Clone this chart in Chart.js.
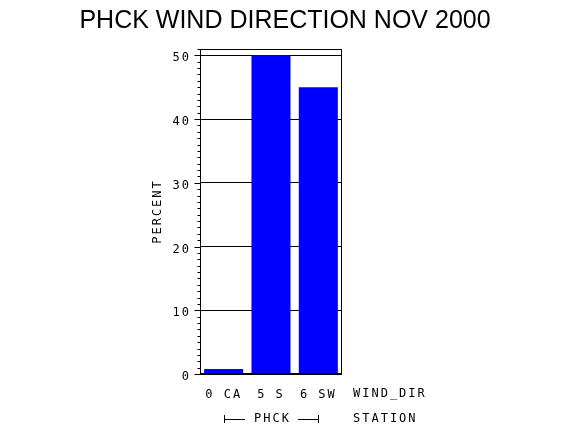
<!DOCTYPE html>
<html>
<head>
<meta charset="utf-8">
<script src="https://cdn.jsdelivr.net/npm/chart.js@4"></script>
<style>
  html, body { margin: 0; padding: 0; background: #fff; }
</style>
</head>
<body>
<canvas id="chart" width="570" height="430"></canvas>
<script>
// data
const categories = ["0 CA", "5 S", "6 SW"];
const percent = [0.8, 50, 45];
const yTicks = [0, 10, 20, 30, 40, 50];
const yMax = 51;
const station = "PHCK";

const monoFont = { family: "DejaVu Sans Mono", size: 12 };

// draws frame, minor ticks and the extra texts round the plot
const extras = {
  id: "extras",
  beforeDraw(chart) {
    chart.ctx.letterSpacing = "2px";
  },
  afterDraw(chart) {
    const { ctx, chartArea: a, scales } = chart;
    const x = scales.x, y = scales.y;
    ctx.save();
    ctx.strokeStyle = "#000";
    ctx.fillStyle = "#000";
    ctx.lineWidth = 1;

    // frame
    const l = Math.round(a.left) + 0.5, r = Math.round(a.right) - 0.5;
    const t = Math.round(a.top) + 0.5, b = Math.round(a.bottom) - 0.5;
    ctx.strokeRect(l, t, r - l, b - t);

    // tick marks on the y axis, a long one every 10
    for (let v = 0; v <= yMax; v++) {
      const py = Math.round(y.getPixelForValue(v)) + 0.5;
      const len = v % 10 === 0 ? 6 : 3;
      ctx.beginPath();
      ctx.moveTo(l - len, py);
      ctx.lineTo(l, py);
      ctx.stroke();
    }

    ctx.font = "12px 'DejaVu Sans Mono'";
    ctx.letterSpacing = "2px";
    ctx.textBaseline = "middle";

    // y axis title
    ctx.save();
    ctx.translate(158, (a.top + a.bottom) / 2);
    ctx.rotate(-Math.PI / 2);
    ctx.textAlign = "center";
    ctx.fillText("PERCENT", 0, 0);
    ctx.restore();

    const row1 = 394, row2 = 419;
    ctx.textAlign = "left";
    ctx.fillText("WIND_DIR", a.right + 11, row1);
    ctx.fillText("STATION", a.right + 11, row2);

    // station bracket under the groups
    const x0 = Math.round(x.getPixelForValue(0)) + 0.5;
    const x1 = Math.round(x.getPixelForValue(categories.length - 1)) + 0.5;
    const mid = (x0 + x1) / 2;
    ctx.textAlign = "center";
    ctx.fillText(station, mid + 1, row2);
    const half = ctx.measureText(station).width / 2 + 8;
    ctx.beginPath();
    ctx.moveTo(x0, row2 - 4); ctx.lineTo(x0, row2 + 4);
    ctx.moveTo(x0, row2 + 0.5); ctx.lineTo(mid - half, row2 + 0.5);
    ctx.moveTo(mid + half, row2 + 0.5); ctx.lineTo(x1, row2 + 0.5);
    ctx.moveTo(x1, row2 - 4); ctx.lineTo(x1, row2 + 4);
    ctx.stroke();

    // main title
    ctx.letterSpacing = "0px";
    ctx.font = "25px 'Liberation Sans'";
    ctx.textAlign = "center";
    ctx.fillText("PHCK WIND DIRECTION NOV 2000", 285, 21);
    ctx.restore();
  }
};

const chart = new Chart(document.getElementById("chart").getContext("2d"), {
  type: "bar",
  data: {
    labels: categories,
    datasets: [
      {
        data: percent,
        backgroundColor: "#0000ff",
        borderWidth: 0,
        barPercentage: 0.825,
        categoryPercentage: 1,
      },
    ],
  },
  options: {
    responsive: false,
    animation: false,
    layout: { padding: { top: 49, right: 228, bottom: 0, left: 0 } },
    plugins: {
      legend: { display: false },
      title: { display: false },
      tooltip: { enabled: false },
    },
    scales: {
      x: {
        grid: { display: false },
        border: { display: false },
        ticks: { font: monoFont, color: "#000", padding: 6, maxRotation: 0 },
        afterFit(s) { s.height = 56; },
      },
      y: {
        min: 0,
        max: yMax,
        afterBuildTicks(s) { s.ticks = yTicks.map(v => ({ value: v })); },
        grid: { color: "#000", drawTicks: false },
        border: { display: true, color: "#000" },
        ticks: { font: monoFont, color: "#000", padding: 9, labelOffset: 3 },
        afterFit(s) { s.width = 200; },
      },
    },
  },
  plugins: [extras],
});
</script>
</body>
</html>
